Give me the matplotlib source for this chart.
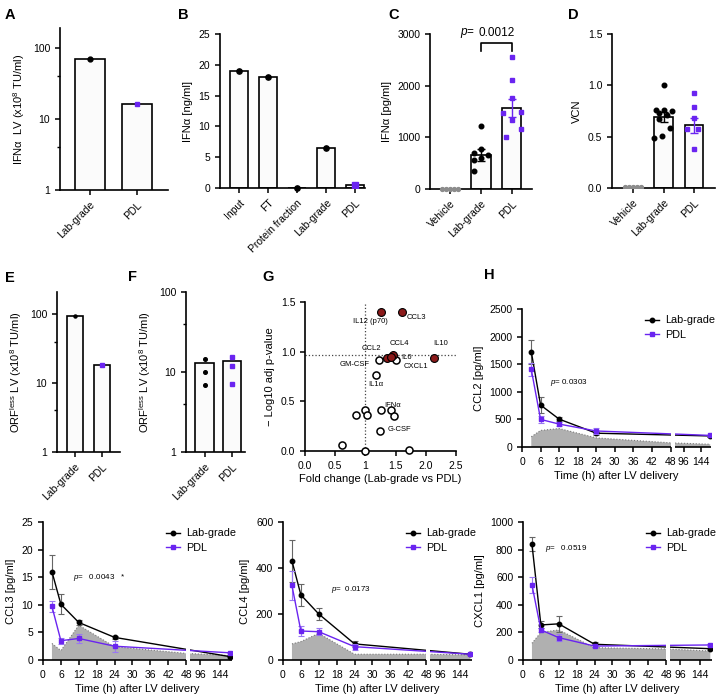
import numpy as np
import matplotlib
matplotlib.use('Agg')
import matplotlib.pyplot as plt
from matplotlib.lines import Line2D
from matplotlib.ticker import FixedLocator, NullFormatter

plt.rcParams['font.family'] = ['Liberation Sans', 'DejaVu Sans']
plt.rcParams['mathtext.fontset'] = 'custom'
plt.rcParams['mathtext.rm'] = 'Liberation Sans'
plt.rcParams['mathtext.it'] = 'Liberation Sans:italic'
plt.rcParams['mathtext.bf'] = 'Liberation Sans:bold'
plt.rcParams['font.size'] = 7.5
plt.rcParams['axes.linewidth'] = 1.2
plt.rcParams['xtick.major.width'] = 1.1
plt.rcParams['ytick.major.width'] = 1.1
plt.rcParams['xtick.major.size'] = 3.5
plt.rcParams['ytick.major.size'] = 3.5
plt.rcParams['xtick.labelsize'] = 7.5
plt.rcParams['ytick.labelsize'] = 7.5

PURPLE = '#6a24f0'
PURPLE_ERR = '#9a78f2'
VEH = '#8c8c8c'
RED = '#8b1a1a'
FILL = '#b0b0b0'

# ---------------- data ----------------
a_cats = ['Lab-grade', 'PDL']
a_vals = [70, 16]

b_cats = ['Input', 'FT', 'Protein fraction', 'Lab-grade', 'PDL']
b_vals = [19, 18, 0, 6.5, 0.5]

c_cats = ['Vehicle', 'Lab-grade', 'PDL']
c_means = [0, 660, 1565]
c_sem = [0, 115, 175]
c_vehicle = [0, 0, 0, 0, 0]
c_lab = [1210, 775, 700, 650, 600, 560, 355]
c_pdl = [2560, 2110, 1755, 1500, 1480, 1330, 1160, 1015]

d_cats = ['Vehicle', 'Lab-grade', 'PDL']
d_means = [0.01, 0.69, 0.61]
d_sem = [0, 0.05, 0.075]
d_vehicle = [0.01, 0.01, 0.01, 0.01, 0.01]
d_lab = [1.0, 0.76, 0.76, 0.75, 0.73, 0.71, 0.67, 0.58, 0.51, 0.49]
d_pdl = [0.93, 0.79, 0.68, 0.57, 0.57, 0.38]

e_cats = ['Lab-grade', 'PDL']
e_vals = [95, 18]

f_cats = ['Lab-grade', 'PDL']
f_means = [12.8, 13.9]
f_lab = [14.5, 9.9, 6.9]
f_pdl = [15.5, 11.9, 7.1]

g_names = ['IL12 (p70)', 'CCL3', 'CCL4', 'CCL2', 'IL10', 'IL6', 'GM-CSF', 'CXCL1',
           'IL1\u03b1', 'IFN\u03b1', 'G-CSF', '', '', '', '', '', '', '']
g_fold = [1.25, 1.60, 1.45, 1.36, 2.14, 1.42, 1.22, 1.51, 1.18, 1.43, 1.24,
          1.00, 1.25, 0.84, 1.02, 1.48, 0.61, 1.00, 1.73]
g_logp = [1.40, 1.40, 0.97, 0.94, 0.94, 0.95, 0.92, 0.92, 0.77, 0.41, 0.20,
          0.41, 0.41, 0.36, 0.36, 0.35, 0.06, 0.00, 0.01]
g_sig = [True, True, True, True, True, True, False, False, False, False, False,
         False, False, False, False, False, False, False, False]
g_threshold = 0.967

times = [3, 6, 12, 24, 168]
gray_times = [3, 6, 12, 24, 48, 168]

ccl2_lab = [1725, 760, 505, 250, 200]
ccl2_lab_err = [215, 145, 35, 25, 15]
ccl2_pdl = [1405, 500, 415, 290, 210]
ccl2_pdl_err = [110, 60, 30, 60, 15]
ccl2_veh = [185, 300, 335, 165, 75, 50]

ccl3_lab = [16.0, 10.1, 6.8, 4.1, 0.6]
ccl3_lab_err = [3.1, 1.8, 0.5, 0.3, 0.1]
ccl3_pdl = [9.7, 3.5, 3.9, 2.5, 1.3]
ccl3_pdl_err = [1.0, 0.55, 0.85, 1.0, 0.1]
ccl3_veh = [3.0, 1.7, 6.3, 2.4, 1.2, 0.8]

ccl4_lab = [431, 283, 200, 70, 25]
ccl4_lab_err = [90, 47, 27, 12, 3]
ccl4_pdl = [324, 126, 123, 58, 25]
ccl4_pdl_err = [62, 21, 14, 13, 3]
ccl4_veh = [70, 80, 116, 25, 25, 22]

cxcl1_lab = [840, 254, 262, 114, 82]
cxcl1_lab_err = [50, 25, 60, 20, 8]
cxcl1_pdl = [545, 218, 162, 101, 109]
cxcl1_pdl_err = [60, 15, 27, 10, 8]
cxcl1_veh = [121, 200, 218, 89, 80, 65]

W, H = 718, 698
fig = plt.figure(figsize=(W / 100, H / 100), dpi=100)


def add_ax(l, r, t, b):
    ax = fig.add_axes([l / W, (H - b) / H, (r - l) / W, (b - t) / H])
    ax.spines['top'].set_visible(False)
    ax.spines['right'].set_visible(False)
    return ax


def panel_label(x, y, s):
    fig.text(x / W, (H - y) / H, s, fontsize=10.5, fontweight='bold', ha='left', va='center')


def bar_axes(ax, cats, vals, width, xlim):
    x = np.arange(len(cats))
    ax.bar(x, vals, width=width, color='#fbfbfb', edgecolor='black', lw=1.2, zorder=2)
    ax.set_xlim(*xlim)
    ax.set_xticks(x)
    ax.set_xticklabels(cats, rotation=45, ha='right', rotation_mode='anchor')
    return x


def log_minor(ax):
    ax.yaxis.set_minor_locator(FixedLocator([4, 40]))
    ax.yaxis.set_minor_formatter(NullFormatter())
    ax.tick_params(axis='y', which='minor', length=2.5, width=1.0)


# ---------------- A ----------------
axA = add_ax(60, 168, 28, 190)
x = bar_axes(axA, a_cats, a_vals, 0.64, (-0.64, 1.66))
axA.set_yscale('log')
axA.set_ylim(1, 190)
axA.set_yticks([1, 10, 100])
axA.set_yticklabels(['1', '10', '100'])
log_minor(axA)
axA.plot([0], [a_vals[0]], 'o', color='black', ms=3.5, zorder=3)
axA.plot([1], [a_vals[1]], 's', color=PURPLE, ms=3.5, zorder=3)
axA.set_ylabel('IFN\u03b1  LV (x10$^8$ TU/ml)', fontsize=8)
panel_label(5, 15, 'A')

# ---------------- B ----------------
axB = add_ax(220, 365, 34, 188)
x = bar_axes(axB, b_cats, b_vals, 0.62, (-0.66, 4.34))
axB.set_ylim(0, 25)
axB.set_yticks([0, 5, 10, 15, 20, 25])
for i in range(4):
    axB.plot([i], [b_vals[i]], 'o', color='black', ms=3.8, zorder=3, clip_on=False)
axB.plot([4], [b_vals[4]], 's', color=PURPLE, ms=3.8, zorder=3)
axB.set_ylabel('IFN\u03b1 [ng/ml]', fontsize=8)
panel_label(178, 15, 'B')

# ---------------- C ----------------
axC = add_ax(430, 532, 34, 189)
x = np.arange(3)
axC.bar(x[1:], c_means[1:], width=0.62, color='#fbfbfb', edgecolor='black', lw=1.2, zorder=2)
axC.set_xlim(-0.65, 2.65)
axC.set_xticks(x)
axC.set_xticklabels(c_cats, rotation=45, ha='right', rotation_mode='anchor')
axC.set_ylim(0, 3000)
axC.set_yticks([0, 1000, 2000, 3000])
veh_off = [-0.26, -0.13, 0, 0.13, 0.26]
c_lab_off = [0, 0, -0.24, 0.24, 0.0, -0.22, -0.22]
c_pdl_off = [0, 0, 0, 0.3, -0.3, 0, 0.3, -0.2]
axC.plot(np.array(veh_off) + 0, c_vehicle, 'o', color=VEH, ms=2.8, zorder=3, clip_on=False)
axC.plot(np.array(c_lab_off) + 1, c_lab, 'o', color='black', ms=3.3, zorder=3)
axC.plot(np.array(c_pdl_off) + 2, c_pdl, 's', color=PURPLE, ms=3.3, zorder=3)
axC.errorbar([1], [c_means[1]], yerr=[c_sem[1]], color='black', lw=1.0, capsize=3, capthick=1.0, zorder=4)
axC.errorbar([2], [c_means[2]], yerr=[c_sem[2]], color=PURPLE, lw=1.0, capsize=3, capthick=1.0, zorder=4)
axC.plot([1, 1, 2, 2], [2680, 2830, 2830, 2680], color='black', lw=1.2, clip_on=False)
axC.text(1.5, 3010, '0.0012', ha='center', va='center', fontsize=8.5)
axC.text(0.55, 3010, '$\\it{p}$=', ha='center', va='center', fontsize=8.5)
axC.set_ylabel('IFN\u03b1 [pg/ml]', fontsize=8)
panel_label(388, 15, 'C')

# ---------------- D ----------------
axD = add_ax(612, 715, 34, 188)
x = np.arange(3)
axD.bar(x[1:], d_means[1:], width=0.62, color='#fbfbfb', edgecolor='black', lw=1.2, zorder=2)
axD.set_xlim(-0.69, 2.69)
axD.set_xticks(x)
axD.set_xticklabels(d_cats, rotation=45, ha='right', rotation_mode='anchor')
axD.set_ylim(0, 1.5)
axD.set_yticks([0, 0.5, 1.0, 1.5])
axD.set_yticklabels(['0.0', '0.5', '1.0', '1.5'])
d_lab_off = [0, -0.25, 0.0, 0.27, -0.16, 0.1, -0.16, 0.2, -0.05, -0.3]
d_pdl_off = [0, 0, 0, -0.22, 0.12, 0]
axD.plot(np.array(veh_off) + 0, d_vehicle, 'o', color=VEH, ms=2.8, zorder=3)
axD.plot(np.array(d_lab_off) + 1, d_lab, 'o', color='black', ms=3.3, zorder=3)
axD.plot(np.array(d_pdl_off) + 2, d_pdl, 's', color=PURPLE, ms=3.3, zorder=3)
axD.errorbar([1], [d_means[1]], yerr=[d_sem[1]], color='black', lw=1.0, capsize=3, capthick=1.0, zorder=4)
axD.errorbar([2], [d_means[2]], yerr=[d_sem[2]], color=PURPLE, lw=1.0, capsize=3, capthick=1.0, zorder=4)
axD.set_ylabel('VCN', fontsize=8)
panel_label(568, 15, 'D')

# ---------------- E ----------------
axE = add_ax(57, 120, 292, 452)
x = bar_axes(axE, e_cats, e_vals, 0.6, (-0.67, 1.67))
axE.set_yscale('log')
axE.set_ylim(1, 209)
axE.set_yticks([1, 10, 100])
axE.set_yticklabels(['1', '10', '100'])
log_minor(axE)
axE.plot([0], [e_vals[0]], 'o', color='black', ms=2.2, zorder=3)
axE.plot([1], [e_vals[1]], 's', color=PURPLE, ms=2.2, zorder=3)
axE.set_ylabel('ORF$^{\\rm less}$ LV (x10$^8$ TU/ml)', fontsize=8)
panel_label(5, 278, 'E')

# ---------------- F ----------------
axF = add_ax(186, 245, 292, 452)
x = bar_axes(axF, f_cats, f_means, 0.7, (-0.7, 1.48))
axF.set_yscale('log')
axF.set_ylim(1, 100)
axF.set_yticks([1, 10, 100])
axF.set_yticklabels(['1', '10', '100'])
log_minor(axF)
axF.plot([0, 0, 0], f_lab, 'o', color='black', ms=2.6, zorder=3)
axF.plot([1, 1, 1], f_pdl, 's', color=PURPLE, ms=2.6, zorder=3)
axF.set_ylabel('ORF$^{\\rm less}$ LV (x10$^8$ TU/ml)', fontsize=8)
panel_label(128, 277, 'F')

# ---------------- G ----------------
axG = add_ax(305, 456, 302, 451)
axG.set_xlim(0, 2.5)
axG.set_ylim(0, 1.5)
axG.set_xticks([0, 0.5, 1, 1.5, 2.0, 2.5])
axG.set_xticklabels(['0.0', '0.5', '1', '1.5', '2.0', '2.5'])
axG.set_yticks([0, 0.5, 1.0, 1.5])
axG.set_yticklabels(['0.0', '0.5', '1.0', '1.5'])
axG.axhline(g_threshold, ls=':', color='#444444', lw=0.9, zorder=1)
axG.axvline(1, ls=':', color='#444444', lw=0.9, zorder=1)
fold = np.array(g_fold)
logp = np.array(g_logp)
sig = np.array(g_sig)
axG.scatter(fold[~sig], logp[~sig], s=26, facecolor='white', edgecolor='black', lw=1.1, zorder=3, clip_on=False)
axG.scatter(fold[sig], logp[sig], s=32, facecolor=RED, edgecolor='black', lw=0.8, zorder=4, clip_on=False)
g_text = {
    'IL12 (p70)': (1.08, 1.30, 'center'),
    'CCL3': (1.68, 1.34, 'left'),
    'CCL4': (1.57, 1.08, 'center'),
    'CCL2': (1.10, 1.03, 'center'),
    'IL10': (2.24, 1.08, 'center'),
    'IL6': (1.60, 0.945, 'left'),
    'GM-CSF': (1.065, 0.87, 'right'),
    'CXCL1': (1.63, 0.85, 'left'),
    'IL1\u03b1': (1.04, 0.67, 'left'),
    'IFN\u03b1': (1.31, 0.46, 'left'),
    'G-CSF': (1.36, 0.22, 'left'),
}
for name in g_names:
    if name in g_text:
        tx, ty, ha = g_text[name]
        axG.text(tx, ty, name, fontsize=5.5, ha=ha, va='center', zorder=5)
axG.set_xlabel('Fold change (Lab-grade vs PDL)', fontsize=8, labelpad=2)
axG.set_ylabel('\u2212 Log10 adj p-value', fontsize=8)
panel_label(262, 277, 'G')


# ---------------- time-course helper ----------------
def make_scale(g, k):
    def fwd(v):
        v = np.asarray(v, dtype=float)
        return np.where(v <= 48, v, np.where(v < 72, 48 + (v - 48) * g / 24.0, 48 + g + (v - 72) * k))

    def inv(u):
        u = np.asarray(u, dtype=float)
        return np.where(u <= 48, u, np.where(u < 48 + g, 48 + (u - 48) * 24.0 / g, 72 + (u - 48 - g) / k))
    return fwd, inv


def time_axes(ax, lab, lab_err, pdl, pdl_err, veh, ymax, yticks, ylabel, ptxt, ppos, g, k, xmax):
    fwd, inv = make_scale(g, k)
    ax.set_xscale('function', functions=(fwd, inv))
    ax.set_xlim(0, xmax)
    ax.set_ylim(0, ymax)
    px = [gray_times[0]] + list(gray_times) + [gray_times[-1]]
    py = [0] + list(veh) + [0]
    ax.fill(px, py, facecolor=FILL, edgecolor='none', lw=0, zorder=1)
    ax.plot(gray_times, veh, ls=':', color='#7a7a7a', lw=0.8, zorder=1.5)
    ax.errorbar(times, lab, yerr=lab_err, color='black', marker='o', ms=3.2, lw=1.0,
                ecolor='#666666', elinewidth=0.8, capsize=2, capthick=0.8, zorder=3)
    ax.errorbar(times, pdl, yerr=pdl_err, color=PURPLE, marker='s', ms=3.2, lw=1.0,
                ecolor=PURPLE_ERR, elinewidth=0.8, capsize=2, capthick=0.8, zorder=3.2)
    ax.axvspan(48.2, 71.8, color='white', lw=0, zorder=4)
    ax.spines['bottom'].set_visible(False)
    tr = ax.get_xaxis_transform()
    ax.plot([0, 48], [0, 0], transform=tr, color='black', lw=1.2, clip_on=False,
            zorder=6, solid_capstyle='butt')
    ax.plot([72, xmax], [0, 0], transform=tr, color='black', lw=1.2, clip_on=False,
            zorder=6, solid_capstyle='butt')
    ax.set_xticks([0, 6, 12, 18, 24, 30, 36, 42, 48, 96, 144])
    ax.set_xticklabels(['0', '6', '12', '18', '24', '30', '36', '42', '48', '96', '144'])
    ax.xaxis.set_minor_locator(FixedLocator([]))
    ax.set_yticks(yticks)
    ax.set_ylabel(ylabel, fontsize=8)
    ax.set_xlabel('Time (h) after LV delivery', fontsize=8, labelpad=3)
    ax.text(ppos[0], ppos[1], ptxt, fontsize=5.8, ha='left', va='center', zorder=5)
    handles = [Line2D([], [], color='black', marker='o', ms=3.2, lw=1.0),
               Line2D([], [], color=PURPLE, marker='s', ms=3.2, lw=1.0)]
    ax.legend(handles, ['Lab-grade', 'PDL'], loc='upper left', bbox_to_anchor=(0.64, 0.97),
              frameon=False, fontsize=7.8, handlelength=1.3, handletextpad=0.5,
              borderaxespad=0, borderpad=0.2, labelspacing=0.4)


# ---------------- H ----------------
axH = add_ax(522, 711, 309, 447)
time_axes(axH, ccl2_lab, ccl2_lab_err, ccl2_pdl, ccl2_pdl_err, ccl2_veh, 2500,
          [0, 500, 1000, 1500, 2000, 2500], 'CCL2 [pg/ml]', '$\\it{p}$= 0.0303', (9.1, 1165),
          1.3, 0.12, 170)
panel_label(484, 275, 'H')

# ---------------- bottom row ----------------
ax3 = add_ax(43, 232, 522, 660)
time_axes(ax3, ccl3_lab, ccl3_lab_err, ccl3_pdl, ccl3_pdl_err, ccl3_veh, 25,
          [0, 5, 10, 15, 20, 25], 'CCL3 [pg/ml]', '$\\it{p}$=   0.0043   *', (10.2, 15.0),
          1.4, 0.14, 172)

ax4 = add_ax(283, 472, 522, 660)
time_axes(ax4, ccl4_lab, ccl4_lab_err, ccl4_pdl, ccl4_pdl_err, ccl4_veh, 600,
          [0, 200, 400, 600], 'CCL4 [pg/ml]', '$\\it{p}$=  0.0173', (16.0, 308),
          1.4, 0.14, 172)

ax5 = add_ax(523, 712, 522, 660)
time_axes(ax5, cxcl1_lab, cxcl1_lab_err, cxcl1_pdl, cxcl1_pdl_err, cxcl1_veh, 1000,
          [0, 200, 400, 600, 800, 1000], 'CXCL1 [pg/ml]', '$\\it{p}$=   0.0519', (7.4, 811),
          1.4, 0.14, 172)

fig.savefig('out.png', dpi=100)
